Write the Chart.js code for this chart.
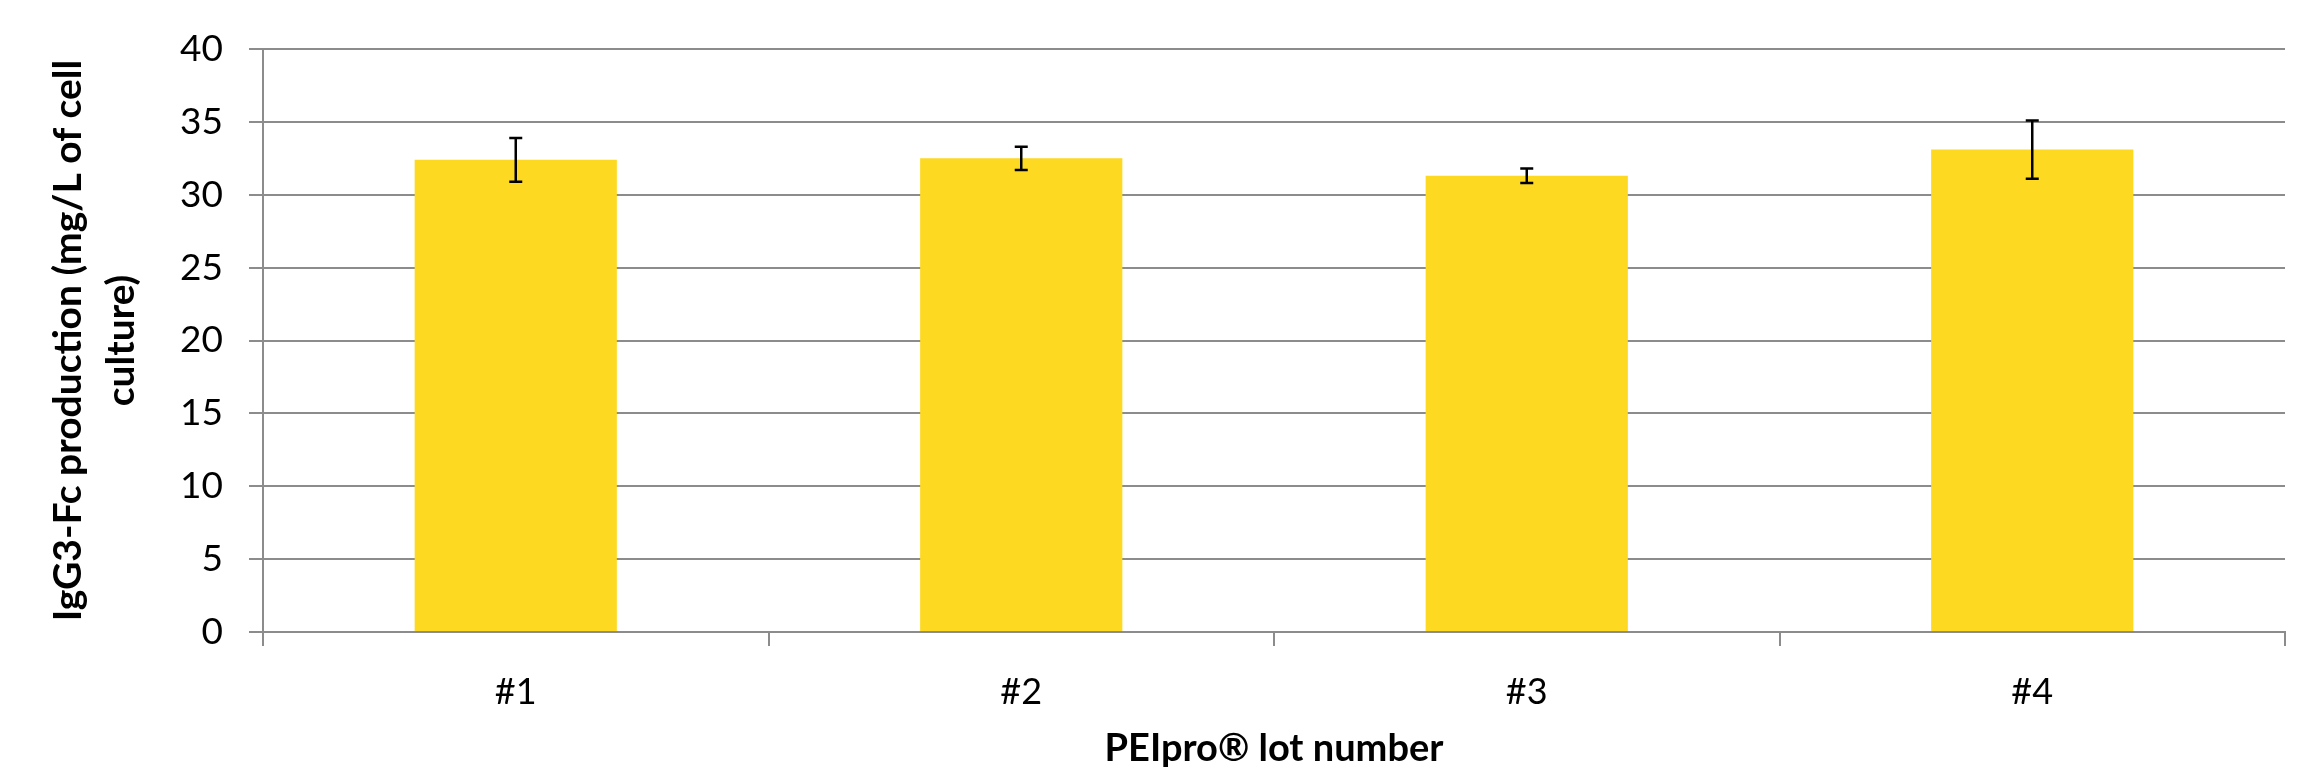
<!DOCTYPE html>
<html>
<head>
<meta charset="utf-8">
<script src="https://cdn.jsdelivr.net/npm/chart.js@4/dist/chart.umd.min.js"></script>
<style>
    html, body { margin: 0; padding: 0; background: #ffffff; }
    #chartCanvas { display: block; }
</style>
</head>
<body>
<canvas id="chartCanvas" width="2315" height="784"></canvas>
<script>
const lots = ['#1', '#2', '#3', '#4'];
const production = [32.4, 32.5, 31.3, 33.1];
const errors = [1.5, 0.8, 0.5, 2.0];
const yTicks = [0, 5, 10, 15, 20, 25, 30, 35, 40];

const gridColor = '#8c8c8c';

// error bars drawn on top of the bars with the y scale
const errorBars = {
    id: 'errorBars',
    afterDatasetsDraw(chart) {
        const ctx = chart.ctx;
        const yScale = chart.scales.y;
        const meta = chart.getDatasetMeta(0);

        ctx.save();
        ctx.strokeStyle = '#000000';
        ctx.lineWidth = 2.5;

        meta.data.forEach((bar, i) => {
            const top = yScale.getPixelForValue(production[i] + errors[i]);
            const bottom = yScale.getPixelForValue(production[i] - errors[i]);
            const x = bar.x;

            ctx.beginPath();
            ctx.moveTo(x, top);
            ctx.lineTo(x, bottom);
            ctx.moveTo(x - 6.5, top);
            ctx.lineTo(x + 6.5, top);
            ctx.moveTo(x - 6.5, bottom);
            ctx.lineTo(x + 6.5, bottom);
            ctx.stroke();
        });

        ctx.restore();
    }
};

const ctx = document.getElementById('chartCanvas').getContext('2d');

new Chart(ctx, {
    type: 'bar',
    data: {
        labels: lots,
        datasets: [
            {
                data: production,
                backgroundColor: '#fdd922',
                borderWidth: 0,
                barPercentage: 0.4,
                categoryPercentage: 1
            }
        ]
    },
    options: {
        responsive: false,
        animation: false,
        devicePixelRatio: 1,
        layout: {
            padding: { left: 0, right: 30, top: 49, bottom: 0 }
        },
        plugins: {
            legend: { display: false },
            tooltip: { enabled: false }
        },
        scales: {
            x: {
                offset: true,
                grid: {
                    offset: true,
                    drawOnChartArea: false,
                    drawTicks: true,
                    tickLength: 14,
                    color: gridColor,
                    lineWidth: 2
                },
                border: { color: gridColor, width: 2 },
                ticks: {
                    color: '#000000',
                    padding: 25,
                    font: { family: 'Lato', size: 36 }
                },
                title: {
                    display: true,
                    text: 'PEIpro® lot number',
                    color: '#000000',
                    font: { family: 'Lato', size: 38, weight: 'bold', lineHeight: 1.2 },
                    padding: { top: 0, bottom: 12 }
                },
                afterFit(scale) {
                    scale.height = 152;
                }
            },
            y: {
                min: 0,
                max: 40,
                afterBuildTicks(scale) {
                    scale.ticks = yTicks.map(v => ({ value: v }));
                },
                grid: {
                    color: gridColor,
                    lineWidth: 2,
                    drawTicks: true,
                    tickLength: 14
                },
                border: { color: gridColor, width: 2 },
                ticks: {
                    color: '#000000',
                    padding: 26,
                    font: { family: 'Lato', size: 37 }
                },
                title: {
                    display: true,
                    text: ['IgG3-Fc production (mg/L of cell', 'culture)'],
                    color: '#000000',
                    font: { family: 'Lato', size: 39, weight: 'bold', lineHeight: 1.36 },
                    padding: { top: 42, bottom: 0 }
                },
                afterFit(scale) {
                    scale.width = 263;
                }
            }
        }
    },
    plugins: [errorBars]
});
</script>
</body>
</html>
